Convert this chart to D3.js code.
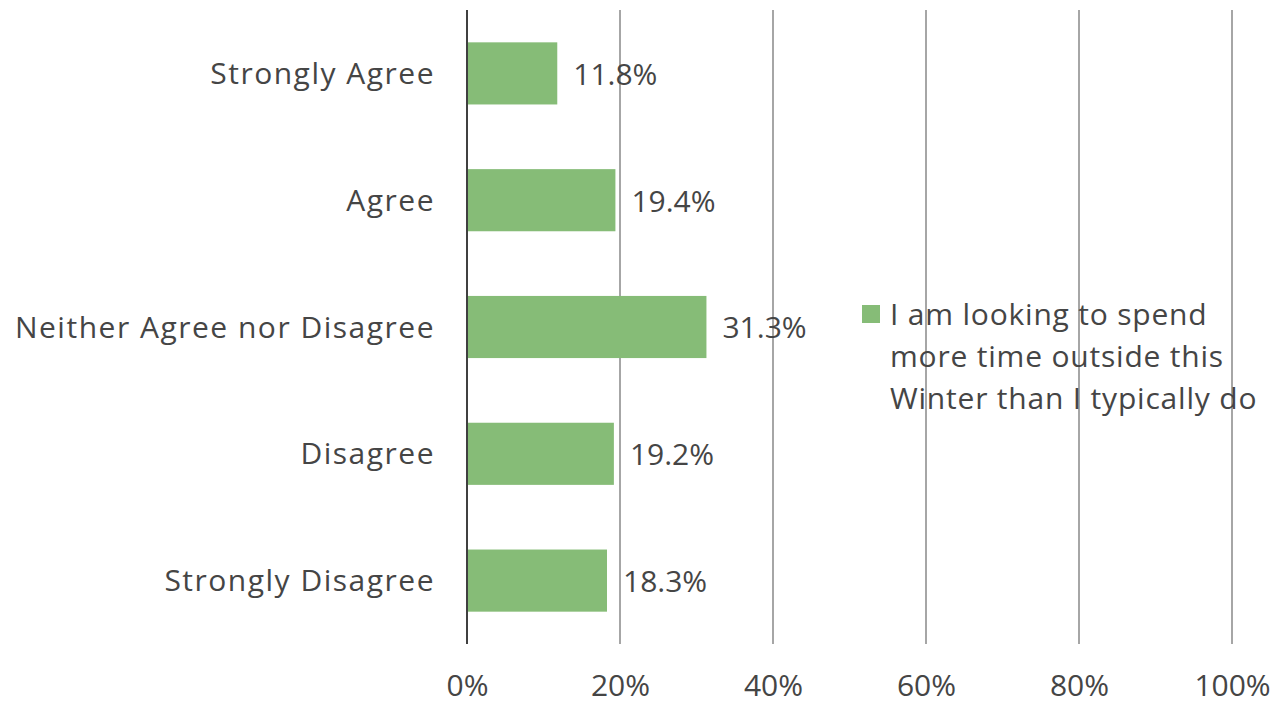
<!DOCTYPE html>
<html>
<head>
<meta charset="utf-8">
<script src="https://cdn.jsdelivr.net/npm/d3@7"></script>
<style>
  html, body { margin: 0; padding: 0; background: #fff; }
  svg { display: block; font-family: "Open Sans", Lato, sans-serif; }
</style>
</head>
<body>
<svg id="chart" width="1277" height="705"></svg>
<script>
// Survey responses, share of respondents
const categories = ["Strongly Agree", "Agree", "Neither Agree nor Disagree", "Disagree", "Strongly Disagree"];
const values = [11.8, 19.4, 31.3, 19.2, 18.3];
const tickValues = [0, 20, 40, 60, 80, 100];
const seriesName = ["I am looking to spend", "more time outside this", "Winter than I typically do"];

const svg = d3.select("#chart");
const margin = { top: 10, right: 45, bottom: 61, left: 467 };
const width = 1277 - margin.left - margin.right;
const height = 705 - margin.top - margin.bottom;

const x = d3.scaleLinear().domain([0, 100]).range([0, width]);
const y = d3.scaleBand().domain(categories).range([0, height]).paddingInner(0.51).paddingOuter(0.255);

const g = svg.append("g").attr("transform", `translate(${margin.left},${margin.top})`);

const textColor = "#454545";
const barColor = "#86bc77";
const fontFamily = "'Open Sans', Lato, sans-serif";
const fontSize = 30;

// vertical gridlines
g.selectAll("line.grid")
  .data(tickValues.filter(d => d > 0))
  .join("line")
  .attr("class", "grid")
  .attr("x1", d => x(d)).attr("x2", d => x(d))
  .attr("y1", 0).attr("y2", height)
  .attr("stroke", "#a6a6a6").attr("stroke-width", 2);

// bars
g.selectAll("rect.bar")
  .data(values)
  .join("rect")
  .attr("class", "bar")
  .attr("x", 0)
  .attr("y", (d, i) => y(categories[i]))
  .attr("width", d => x(d))
  .attr("height", y.bandwidth())
  .attr("fill", barColor);

// value labels
g.selectAll("text.value")
  .data(values)
  .join("text")
  .attr("class", "value")
  .attr("x", d => x(d) + 16)
  .attr("y", (d, i) => y(categories[i]) + y.bandwidth() / 2)
  .attr("dy", "0.38em")
  .attr("fill", textColor)
  .attr("font-size", fontSize)
  .text(d => d.toFixed(1) + "%");

// x axis tick labels
const xAxis = d3.axisBottom(x).tickValues(tickValues).tickSize(0).tickPadding(31).tickFormat(d => d + "%");
const xg = g.append("g").attr("transform", `translate(0,${height})`).call(xAxis);
xg.select(".domain").remove();
xg.selectAll("text").attr("font-size", fontSize).attr("fill", textColor)
  .attr("font-family", fontFamily);

// y axis category labels and baseline
const yAxis = d3.axisLeft(y).tickSize(0).tickPadding(32);
const yg = g.append("g").call(yAxis);
yg.select(".domain").remove();
yg.selectAll("text").attr("font-size", fontSize).attr("fill", textColor)
  .attr("font-family", fontFamily)
  .attr("letter-spacing", "1.5px").attr("dy", "0.35em");

g.append("line")
  .attr("x1", 0).attr("x2", 0).attr("y1", 0).attr("y2", height)
  .attr("stroke", "#404040").attr("stroke-width", 2);

// legend
const legend = svg.append("g").attr("transform", "translate(862,305)");
legend.append("rect").attr("width", 18).attr("height", 18).attr("fill", barColor);
legend.selectAll("text")
  .data(seriesName)
  .join("text")
  .attr("x", 28)
  .attr("y", (d, i) => 9 + i * 42)
  .attr("dy", "0.35em")
  .attr("font-size", fontSize)
  .attr("letter-spacing", "0.8px")
  .attr("fill", textColor)
  .text(d => d);
</script>
</body>
</html>
